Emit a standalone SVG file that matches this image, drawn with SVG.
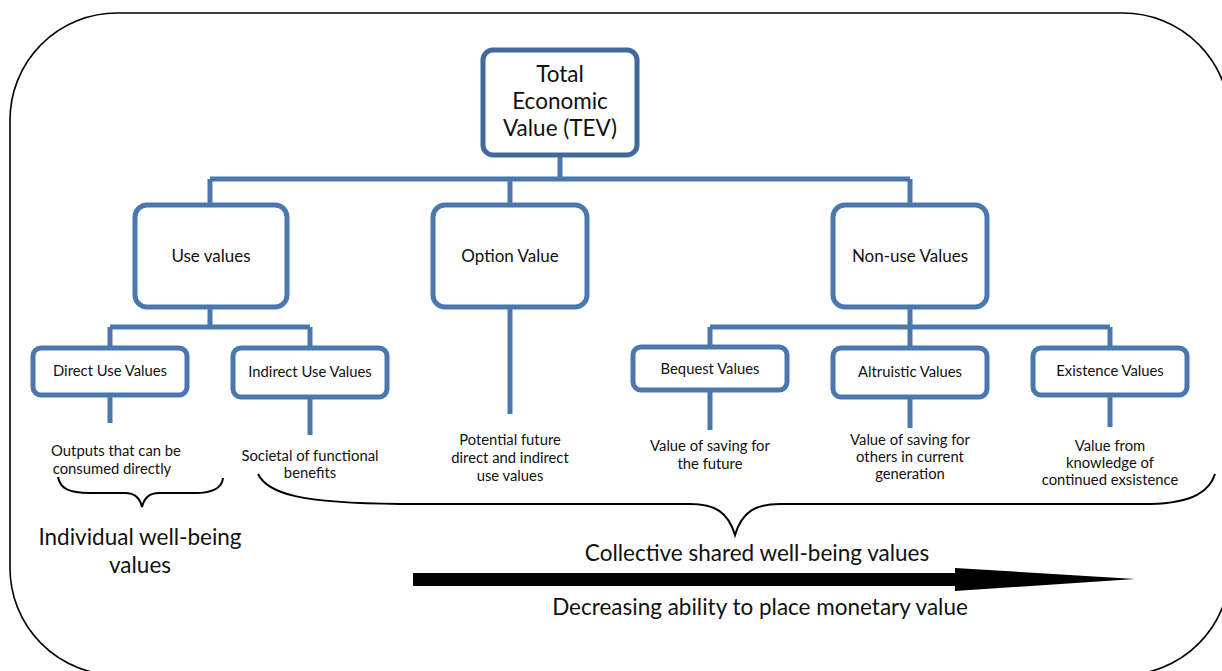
<svg xmlns="http://www.w3.org/2000/svg" width="1222" height="671" viewBox="0 0 1222 671">
<style>
.box{fill:#fff;stroke:#4a77ae;stroke-width:5}
.dark{stroke:#41699b}
.con{fill:none;stroke:#4a77ae;stroke-width:5}
.con .dark{stroke:#41699b}
text{font-family:Lato,"Open Sans","Liberation Sans",sans-serif;fill:#111;text-anchor:middle}
.t22{font-size:22.5px}
.t20{font-size:22.5px}
.t15{font-size:17px}
.t13{font-size:14.8px}
.brace{fill:none;stroke:#000;stroke-width:2}
</style>
<rect x="10" y="13" width="1220" height="662" rx="107" ry="107" fill="none" stroke="#000" stroke-width="1.6"/>
<g id="connectors">
<path class="con dark" d="M560 155V179M210 179H910M210 179V205M910 179V205M510 179V205"/>
<path class="con" d="M210 307V327M110 327H310M110 327V348M310 327V348"/>
<path class="con" d="M110 395V423M310 397V435"/>
<path class="con" d="M510 307V414"/>
<path class="con" d="M910 307V327M710 327H1110M710 327V347M910 327V348M1110 327V348"/>
<path class="con" d="M710 390V430M910 397V428M1110 395V427"/>
</g>
<g id="tev"><rect class="box dark" x="483" y="50" width="154" height="105" rx="10"/>
<text class="t22" x="560" y="82">Total</text><text class="t22" x="560" y="109">Economic</text><text class="t22" x="560" y="136">Value (TEV)</text></g>
<g id="use"><rect class="box" x="135" y="205" width="152" height="102" rx="12"/><text class="t15" x="211" y="262">Use values</text></g>
<g id="option"><rect class="box" x="433" y="205" width="154" height="102" rx="12"/><text class="t15" x="510" y="262">Option Value</text></g>
<g id="nonuse"><rect class="box" x="833" y="205" width="154" height="102" rx="12"/><text class="t15" x="910" y="262">Non-use Values</text></g>
<g id="direct"><rect class="box" x="33" y="348" width="154" height="47" rx="8"/><text class="t13" x="110" y="376">Direct Use Values</text></g>
<g id="indirect"><rect class="box" x="233" y="348" width="154" height="49" rx="8"/><text class="t13" x="310" y="377">Indirect Use Values</text></g>
<g id="bequest"><rect class="box" x="633" y="347" width="154" height="43" rx="8"/><text class="t13" x="710" y="374">Bequest Values</text></g>
<g id="altruistic"><rect class="box" x="833" y="348" width="154" height="49" rx="8"/><text class="t13" x="910" y="377">Altruistic Values</text></g>
<g id="existence"><rect class="box" x="1033" y="348" width="154" height="47" rx="8"/><text class="t13" x="1110" y="376">Existence Values</text></g>
<g id="labels">
<text class="t13" x="116" y="456">Outputs that can be</text><text class="t13" x="112" y="474">consumed directly</text>
<text class="t13" x="310" y="461">Societal of functional</text><text class="t13" x="310" y="478">benefits</text>
<text class="t13" x="510" y="445">Potential future</text><text class="t13" x="510" y="463">direct and indirect</text><text class="t13" x="510" y="481">use values</text>
<text class="t13" x="710" y="451">Value of saving for</text><text class="t13" x="710" y="469">the future</text>
<text class="t13" x="910" y="445">Value of saving for</text><text class="t13" x="910" y="462">others in current</text><text class="t13" x="910" y="479">generation</text>
<text class="t13" x="1110" y="451">Value from</text><text class="t13" x="1110" y="468">knowledge of</text><text class="t13" x="1110" y="485">continued exsistence</text>
</g>
<g id="braces">
<path class="brace" d="M58 477C60 488 68 493 90 493H125C135 493 140 498 142 507C144 498 149 493 159 493H195C213 493 222 488 223 478"/>
<path class="brace" d="M258 474C268 494 300 503 400 504H690C715 504 728 512 735 535C742 512 755 504 780 504H1150C1195 503 1210 490 1215 474"/>
</g>
<g id="captions">
<text class="t20" x="140" y="545">Individual well-being</text><text class="t20" x="140" y="573">values</text>
<text class="t20" x="757" y="561">Collective shared well-being values</text>
<text class="t20" x="760" y="615">Decreasing ability to place monetary value</text>
</g>
<g id="arrow"><path d="M413 573H955V568L1135 579L955 591V586H413Z" fill="#000"/></g>
</svg>
